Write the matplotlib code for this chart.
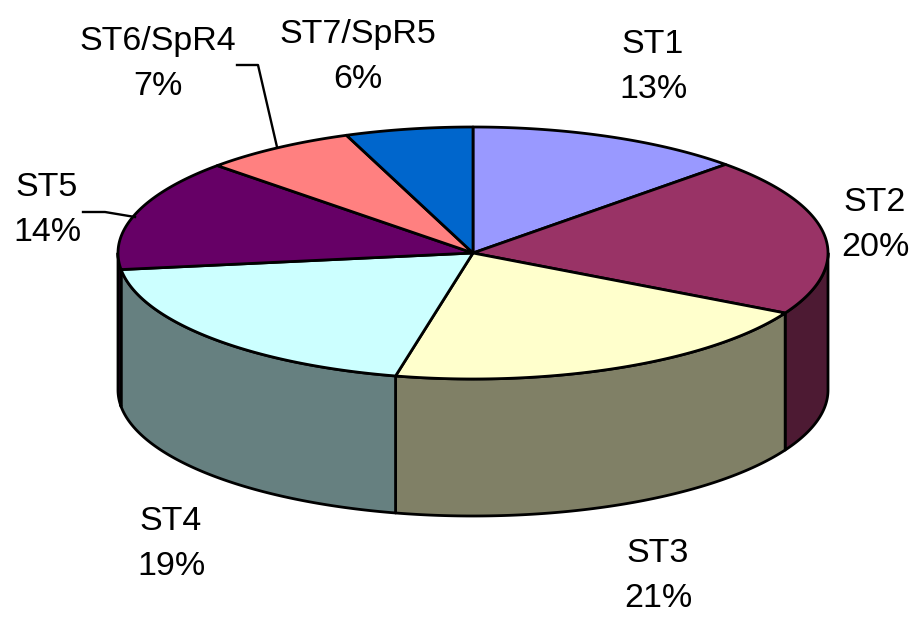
import numpy as np
import matplotlib
matplotlib.use('Agg')
import matplotlib.pyplot as plt
from matplotlib.patches import Polygon

# dados do grafico (percentuais estimados pelas fatias, o rotulo arredonda)
nomes = ['ST1', 'ST2', 'ST3', 'ST4', 'ST5', 'ST6/SpR4', 'ST7/SpR5']
valores = [12.6, 20.3, 20.6, 19.4, 14.3, 7.0, 5.8]
cores = ['#9999FF', '#993366', '#FFFFCC', '#CCFFFF', '#660066', '#FF8080', '#0066CC']
cores_lado = ['#4D4D80', '#4D1A33', '#808066', '#668080', '#330033', '#804040', '#003366']
pos_texto = [(653, 67), (875, 225), (658, 576), (171, 544), (47, 210), (158, 64), (358, 57)]

# geometria da pizza em pixels
cx, cy = 473, 253
rx, ry = 355, 126
prof = 137


def ponto(ang):
    t = np.radians(ang)
    return cx + rx * np.sin(t), cy - ry * np.cos(t)


def arco(a0, a1):
    n = max(int(abs(a1 - a0)) * 2, 2)
    return ponto(np.linspace(a0, a1, n))


fig = plt.figure(figsize=(9.10, 6.26), dpi=100)
ax = fig.add_axes([0, 0, 1, 1])
ax.set_xlim(0, 910)
ax.set_ylim(626, 0)
ax.axis('off')

limites = np.cumsum([0] + valores) * 3.6

# lateral (so a metade da frente aparece)
for i in range(len(valores)):
    a0 = max(limites[i], 90)
    a1 = min(limites[i + 1], 270)
    if a1 <= a0:
        continue
    x, y = arco(a0, a1)
    xs = np.concatenate([x, x[::-1]])
    ys = np.concatenate([y, y[::-1] + prof])
    ax.add_patch(Polygon(np.column_stack([xs, ys]), closed=True, fc=cores_lado[i],
                         ec='black', lw=2.0, joinstyle='round', zorder=2))

# topo
for i in range(len(valores)):
    x, y = arco(limites[i], limites[i + 1])
    xs = np.concatenate([[cx], x])
    ys = np.concatenate([[cy], y])
    ax.add_patch(Polygon(np.column_stack([xs, ys]), closed=True, fc=cores[i],
                         ec='black', lw=2.0, joinstyle='round', zorder=3))

# linhas de chamada
ax.plot([83, 105, 135], [212, 212, 217], color='black', lw=1.7, zorder=4)
ax.plot([237, 258, 277], [65, 65, 147], color='black', lw=1.7, zorder=4)

for nome, v, (tx, ty) in zip(nomes, valores, pos_texto):
    ax.text(tx, ty, '%s\n%.0f%%' % (nome, v), ha='center', va='center', color='black',
            fontsize=24.5, family='Liberation Sans', linespacing=1.6)

fig.savefig('out.png', dpi=100)
